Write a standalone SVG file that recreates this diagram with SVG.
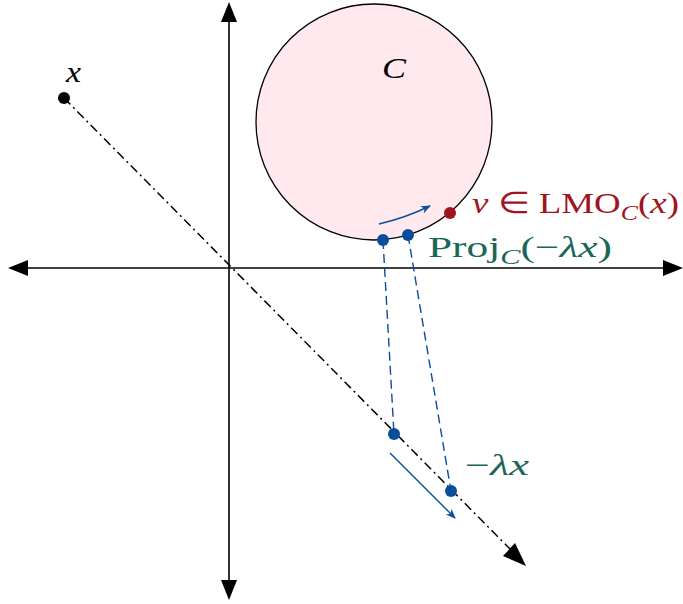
<svg xmlns="http://www.w3.org/2000/svg" width="683" height="604" viewBox="0 0 683 604">
<style>
.ax{stroke:#000;stroke-width:1.6;fill:none}
.t{font-family:"Liberation Serif","Times New Roman",serif;font-size:30px}
.i{font-style:italic}
.blue{fill:#0a4d99}
.bl{stroke:#0a4d99;stroke-width:1.4;fill:none}
</style>
<defs>
<marker id="bh" viewBox="0 0 10 10" refX="9" refY="5" markerWidth="10" markerHeight="10" orient="auto" markerUnits="userSpaceOnUse">
<path d="M0,1 L10,5 L0,9 L3,5 z" fill="#0a4d99"/>
</marker>
</defs>
<g id="circle">
<circle cx="374" cy="122" r="118" fill="#ffe9ee" stroke="#000" stroke-width="1.3"/>
<text class="t i" x="382" y="78" font-size="36" textLength="24" lengthAdjust="spacingAndGlyphs">C</text>
</g>
<g id="connectors">
<line class="ax" x1="229" y1="22" x2="229" y2="582"/>
<path d="M229,2 L221,22 L237,22 z"/>
<path d="M229,600 L221,580 L237,580 z"/>
<line class="ax" x1="28" y1="268" x2="664" y2="268"/>
<path d="M8,268 L28,260 L28,276 z"/>
<path d="M683,268 L663,260 L663,276 z"/>
<line x1="64" y1="98" x2="510" y2="549" stroke="#000" stroke-width="1.5" stroke-dasharray="9,4,2,4"/>
<path d="M526,566 L503,556 L515,543 z"/>
<line class="bl" x1="383" y1="240" x2="394" y2="434" stroke-dasharray="9,5"/>
<line class="bl" x1="408" y1="235" x2="451" y2="491" stroke-dasharray="9,5"/>
<path class="bl" d="M379,224 Q405,218 430,206" marker-end="url(#bh)"/>
<line class="bl" x1="390" y1="453" x2="455" y2="518" marker-end="url(#bh)"/>
</g>
<g id="x">
<circle cx="64" cy="98" r="6"/>
<text class="t i" x="66" y="82" textLength="15" lengthAdjust="spacingAndGlyphs">x</text>
</g>
<g id="v">
<circle cx="450" cy="213" r="6" fill="#a0141e"/>
<text class="t" x="472" y="213" fill="#a0141e" textLength="207" lengthAdjust="spacingAndGlyphs"><tspan class="i">v</tspan> ∈ LMO<tspan font-size="21" dy="7" class="i">C</tspan><tspan dy="-7">(</tspan><tspan class="i">x</tspan>)</text>
</g>
<g id="proj">
<circle class="blue" cx="383" cy="240" r="6"/>
<circle class="blue" cx="408" cy="235" r="6"/>
<text class="t" x="428" y="257" fill="#1a6659" textLength="184" lengthAdjust="spacingAndGlyphs">Proj<tspan font-size="21" dy="7" class="i">C</tspan><tspan dy="-7">(−</tspan><tspan class="i">λx</tspan>)</text>
</g>
<g id="p1"><circle class="blue" cx="394" cy="434" r="6"/></g>
<g id="lx">
<circle class="blue" cx="451" cy="491" r="6"/>
<text class="t" x="465" y="475" fill="#1a6659" textLength="64" lengthAdjust="spacingAndGlyphs">−<tspan class="i">λx</tspan></text>
</g>
</svg>
